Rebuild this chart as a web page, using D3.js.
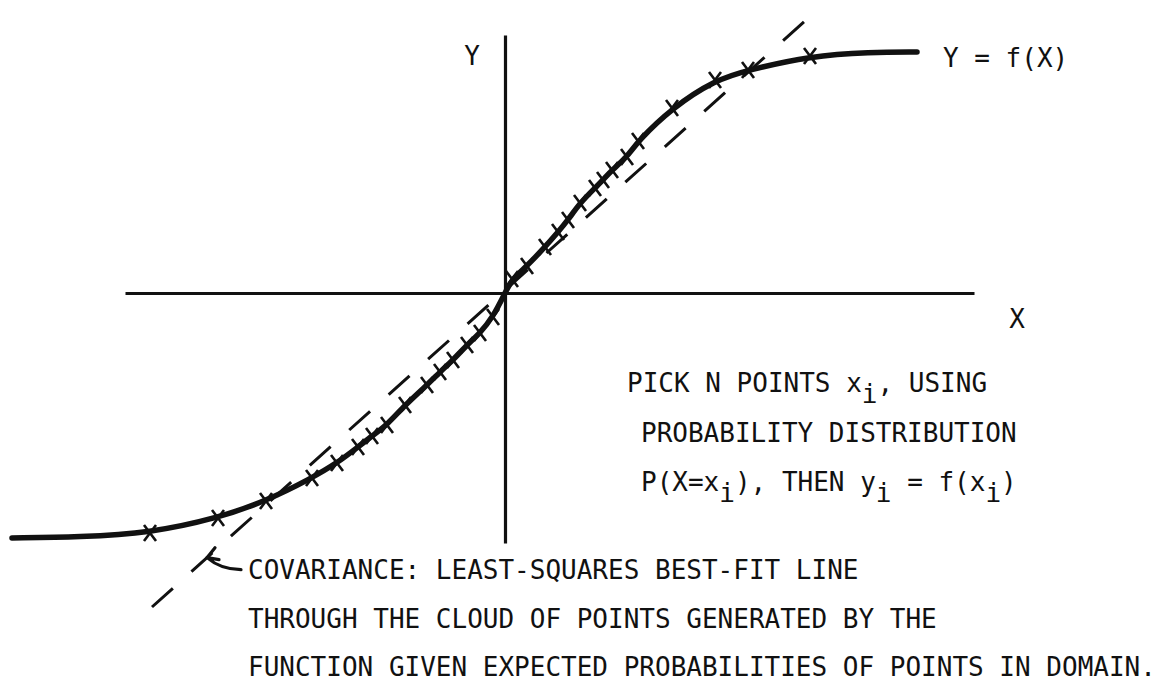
<!DOCTYPE html>
<html lang="en">

<head>
    <meta charset="UTF-8">
    <title>Covariance sketch</title>
    <style>
        body { margin: 0; background: #fff; }
        text { font-family: "DejaVu Sans Mono", "Liberation Mono", monospace; font-size: 26px; fill: #111; }
    </style>
</head>

<body>
    <div id="my_dataviz"></div>

    <script src="https://d3js.org/d3.v7.min.js"></script>
    <script>

        // the curve Y = f(X) (chart units, origin where the axes cross)
        const curveX = [-4.93, -4.25, -3.55, -2.87, -2.39, -1.93, -1.68, -1.47, -1.33, -1.18, -1.00, -0.78, -0.65, -0.52, -0.38, -0.25, -0.12, 0,
            0.07, 0.22, 0.40, 0.53, 0.63, 0.75, 0.90, 0.98, 1.07, 1.22, 1.33, 1.67, 2.10, 2.43, 3.05, 3.65, 4.12];
        const curveY = [-2.45, -2.44, -2.40, -2.25, -2.08, -1.85, -1.70, -1.54, -1.43, -1.32, -1.12, -0.92, -0.79, -0.67, -0.52, -0.40, -0.24, 0,
            0.14, 0.27, 0.46, 0.61, 0.73, 0.90, 1.05, 1.13, 1.23, 1.36, 1.52, 1.85, 2.13, 2.23, 2.37, 2.41, 2.41];

        // the picked points (x_i, y_i) marked with crosses
        const sampleX = [-3.55, -2.87, -2.39, -1.93, -1.68, -1.47, -1.33, -1.18, -1.00, -0.78, -0.65, -0.52, -0.38, -0.25, -0.12,
            0.07, 0.22, 0.40, 0.53, 0.63, 0.75, 0.90, 0.98, 1.07, 1.22, 1.33, 1.67, 2.10, 2.43, 3.05];
        const sampleY = [-2.40, -2.25, -2.08, -1.85, -1.70, -1.54, -1.43, -1.32, -1.12, -0.92, -0.79, -0.67, -0.52, -0.40, -0.24,
            0.14, 0.27, 0.46, 0.61, 0.73, 0.90, 1.05, 1.13, 1.23, 1.36, 1.52, 1.85, 2.13, 2.23, 2.37];

        // least-squares best-fit line (dashed), its two drawn ends
        const fitX = [-3.53, 3.10];
        const fitY = [-3.14, 2.81];

        // extent of the drawn axes
        const xAxisExtent = [-3.80, 4.69];
        const yAxisExtent = [-2.50, 2.58];

        const axisLabels = ["X", "Y"];
        const curveLabel = "Y = f(X)";
        const pickLines = [
            [["PICK N POINTS x", 0], ["i", 1], [", USING", 0]],
            [["PROBABILITY DISTRIBUTION", 0]],
            [["P(X=x", 0], ["i", 1], ["), THEN y", 0], ["i", 1], [" = f(x", 0], ["i", 1], [")", 0]]
        ];
        const noteLines = [
            "COVARIANCE: LEAST-SQUARES BEST-FIT LINE",
            "THROUGH THE CLOUD OF POINTS GENERATED BY THE",
            "FUNCTION GIVEN EXPECTED PROBABILITIES OF POINTS IN DOMAIN."
        ];

        const W = 1176, H = 685;

        const svg = d3.select("#my_dataviz")
            .append("svg")
            .attr("width", W)
            .attr("height", H);

        // 1 chart unit = 100px, origin at (505, 293)
        const x = d3.scaleLinear().domain([-5, 5]).range([5, 1005]);
        const y = d3.scaleLinear().domain([-3, 3]).range([593, -7]);

        // axes without ticks
        const xAxisScale = d3.scaleLinear().domain(xAxisExtent).range(xAxisExtent.map(x));
        const yAxisScale = d3.scaleLinear().domain(yAxisExtent).range(yAxisExtent.map(y));

        svg.append("g")
            .attr("class", "axis")
            .attr("transform", `translate(0, ${y(0)})`)
            .call(d3.axisBottom(xAxisScale).tickValues([]).tickSizeOuter(0));
        svg.append("g")
            .attr("class", "axis")
            .attr("transform", `translate(${x(0)}, 0)`)
            .call(d3.axisLeft(yAxisScale).tickValues([]).tickSizeOuter(0));
        svg.selectAll(".axis path")
            .attr("stroke", "#111")
            .attr("stroke-width", 3.2);

        // dashed best-fit line
        const fitPts = fitX.map((v, i) => [v, fitY[i]]);
        svg.append("path")
            .datum(fitPts)
            .attr("d", d3.line().x(d => x(d[0])).y(d => y(d[1])))
            .attr("fill", "none")
            .attr("stroke", "#111")
            .attr("stroke-width", 3)
            .attr("stroke-dasharray", "28,25");

        // the curve
        const curvePts = curveX.map((v, i) => [v, curveY[i]]);
        svg.append("path")
            .datum(curvePts)
            .attr("d", d3.line().curve(d3.curveBasis).x(d => x(d[0])).y(d => y(d[1])))
            .attr("fill", "none")
            .attr("stroke", "#111")
            .attr("stroke-width", 5.5)
            .attr("stroke-linecap", "round");

        // crosses at the sample points
        const samples = sampleX.map((v, i) => [v, sampleY[i]]);
        svg.append("g")
            .selectAll("path")
            .data(samples)
            .join("path")
            .attr("d", d => {
                const cx = x(d[0]), cy = y(d[1]);
                return `M${cx - 6},${cy - 8}L${cx + 6},${cy + 8}M${cx + 6},${cy - 8}L${cx - 6},${cy + 8}`;
            })
            .attr("stroke", "#111")
            .attr("stroke-width", 2.6);

        // axis labels
        svg.append("text").attr("x", 1017).attr("y", 328).attr("text-anchor", "middle").text(axisLabels[0]);
        svg.append("text").attr("x", 472).attr("y", 65).attr("text-anchor", "middle").text(axisLabels[1]);
        svg.append("text").attr("x", 943).attr("y", 67).text(curveLabel);

        // text block on the right
        const pickX = [627, 641, 641];
        const pickY = [392, 442, 491];
        pickLines.forEach((parts, li) => {
            const t = svg.append("text").attr("x", pickX[li]).attr("y", pickY[li]).attr("xml:space", "preserve");
            let shift = 0;
            parts.forEach(([s, sub]) => {
                const dy = sub ? 11 - shift : -shift;
                shift = sub ? 11 : 0;
                t.append("tspan").attr("dy", dy).text(s);
            });
        });

        // note under the chart
        const noteY = [579, 628, 676];
        noteLines.forEach((s, i) => {
            svg.append("text").attr("x", 248).attr("y", noteY[i]).attr("xml:space", "preserve").text(s);
        });

        // arrow from the note to the dashed line
        const tipU = -2.98;
        const tipV = fitY[0] + (tipU - fitX[0]) * (fitY[1] - fitY[0]) / (fitX[1] - fitX[0]);
        const tx = x(tipU), ty = y(tipV);
        svg.append("path")
            .attr("d", `M${tx + 34},${ty + 12}Q${tx + 14},${ty + 12} ${tx},${ty}M${tx},${ty}L${tx + 8},${ty - 10}M${tx},${ty}L${tx + 12},${ty + 2}`)
            .attr("fill", "none")
            .attr("stroke", "#111")
            .attr("stroke-width", 3.2)
            .attr("stroke-linecap", "round");

    </script>
</body>

</html>
